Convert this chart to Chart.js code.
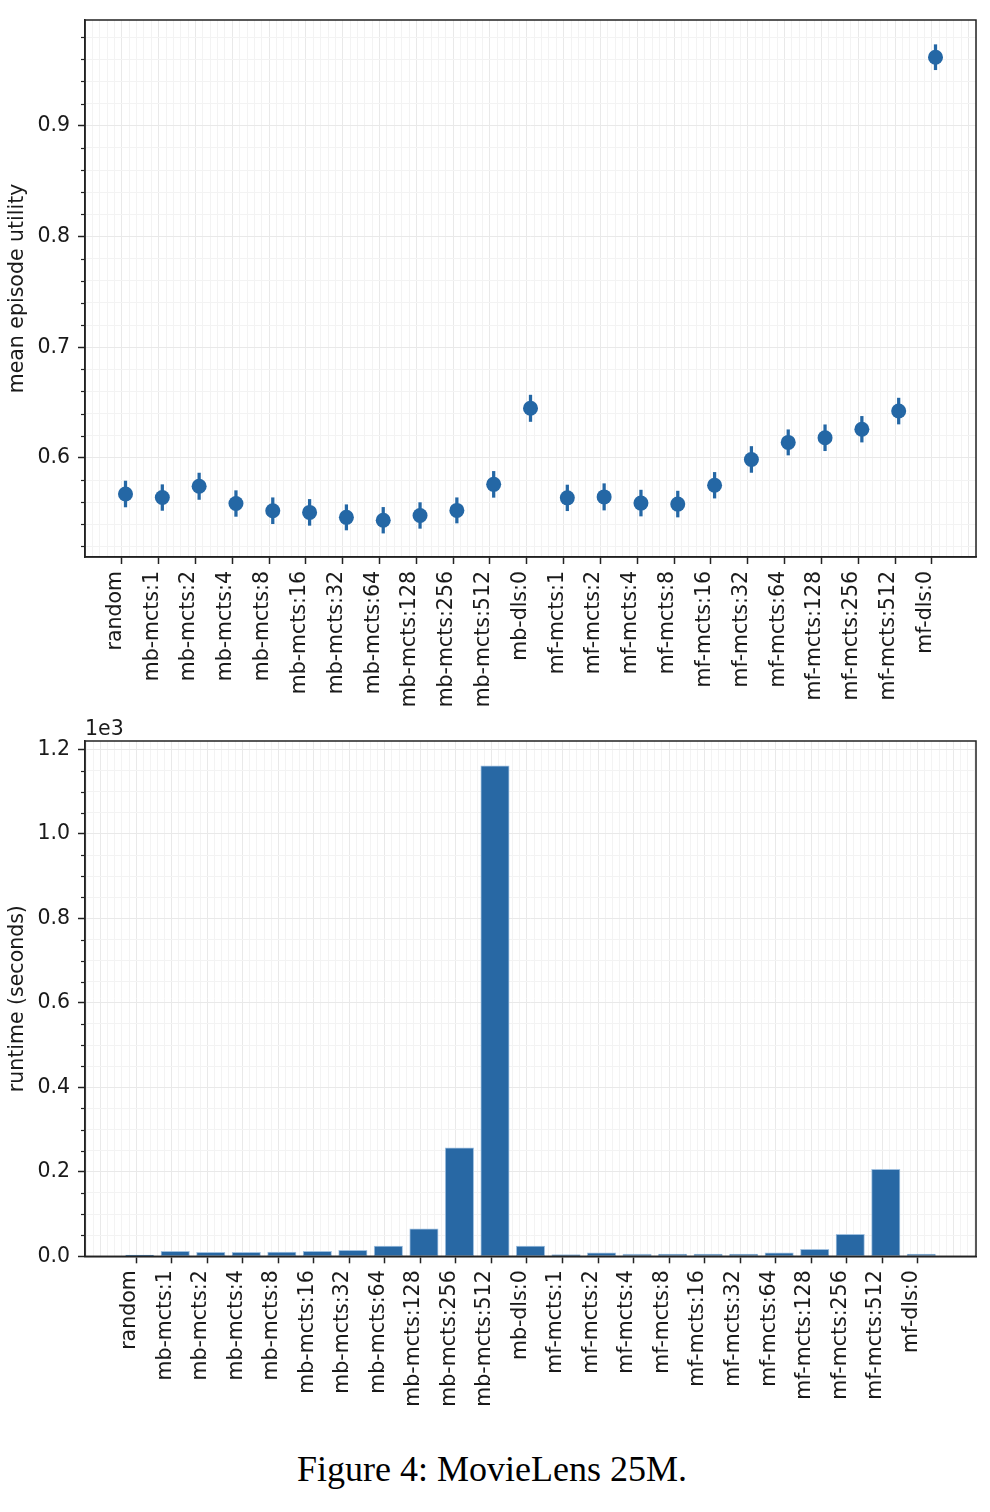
<!DOCTYPE html>
<html>
<head>
<meta charset="utf-8">
<script src="https://cdn.jsdelivr.net/npm/chart.js@4/dist/chart.umd.min.js"></script>
<style>
  html, body { margin: 0; padding: 0; background: #fff; }
  body { width: 990px; height: 1512px; position: relative; overflow: hidden; }
  canvas { position: absolute; left: 0; }
  #c1 { top: 0; }
  #c2 { top: 715px; }
  #cap { position: absolute; left: -3px; width: 990px; top: 1451px; text-align: center;
         font-family: "Liberation Serif", "Times New Roman", serif; font-size: 36px; line-height: 1;
         color: #000; white-space: nowrap; }
</style>
</head>
<body>
<canvas id="c1" width="990" height="715" style="width:990px;height:715px"></canvas>
<canvas id="c2" width="990" height="725" style="width:990px;height:725px"></canvas>
<div id="cap">Figure 4: MovieLens 25M.</div>
<script>
// ---------------- data ----------------
const categories = ['random','mb-mcts:1','mb-mcts:2','mb-mcts:4','mb-mcts:8','mb-mcts:16','mb-mcts:32',
  'mb-mcts:64','mb-mcts:128','mb-mcts:256','mb-mcts:512','mb-dls:0','mf-mcts:1','mf-mcts:2','mf-mcts:4',
  'mf-mcts:8','mf-mcts:16','mf-mcts:32','mf-mcts:64','mf-mcts:128','mf-mcts:256','mf-mcts:512','mf-dls:0'];
const utilityMean = [0.5674, 0.5642, 0.5744, 0.5588, 0.5523, 0.5508, 0.5463, 0.5437, 0.5480, 0.5526, 0.5761,
  0.6448, 0.5639, 0.5648, 0.5592, 0.5583, 0.5753, 0.5986, 0.6140, 0.6182, 0.6259, 0.6423, 0.9619];
const utilityErr = [0.0117, 0.0116, 0.0119, 0.0116, 0.0117, 0.0117, 0.0114, 0.0116, 0.0116, 0.0114, 0.0117,
  0.0119, 0.0116, 0.0119, 0.0117, 0.0117, 0.0116, 0.0117, 0.0114, 0.0117, 0.0116, 0.0117, 0.0113];
const runtimeSec = [3, 12, 9.5, 9.5, 10, 12, 14, 24, 65, 257, 1161, 24, 4, 8, 5, 5.5, 5.5, 5.5, 8, 16.5, 52, 206, 5.5];
const utilityMajorTicks = [0.6, 0.7, 0.8, 0.9];
const runtimeMajorTicks = [0, 200, 400, 600, 800, 1000, 1200];   // shown as x1e3
const runtimeTickLabels = ['0.0', '0.2', '0.4', '0.6', '0.8', '1.0', '1.2'];

// ---------------- style ----------------
const FONT = { family: 'DejaVu Sans', size: 20.5 };
const TXT = '#1a1a1a';
const AXIS = '#222222';
const GMAJ = '#e9e9e9';
const GMIN = '#f3f3f3';
const POINT = '#2467a5';
const BAR = '#2868a4';

const near = (a, b) => Math.abs(a - b) < 1e-6;
const isCat = v => near(v, Math.round(v)) && Math.round(v) >= 0 && Math.round(v) < categories.length;
const isInt = v => near(v, Math.round(v));

function rangeSteps(min, max, step) {
  const out = [];
  for (let k = Math.ceil(min / step - 1e-9); k * step <= max + 1e-9; k++) out.push(+(k * step).toFixed(6));
  return out;
}

function boxPlugin(id, isMajorY, extraText) {
  return {
    id,
    afterDraw(chart) {
      const { ctx, chartArea: a } = chart;
      const ys = chart.scales.y;
      ctx.save();
      ctx.strokeStyle = AXIS;
      ctx.lineWidth = 1.5;
      ctx.strokeRect(a.left, a.top, a.right - a.left, a.bottom - a.top);
      ctx.lineWidth = 1.2;
      ys.ticks.forEach(t => {
        if (!isMajorY(t.value)) {
          const y = Math.round(ys.getPixelForValue(t.value)) + 0.5;
          ctx.beginPath();
          ctx.moveTo(a.left - 4, y);
          ctx.lineTo(a.left, y);
          ctx.stroke();
        }
      });
      if (extraText) {
        ctx.fillStyle = TXT;
        ctx.font = `${FONT.size}px "${FONT.family}"`;
        ctx.textAlign = 'left';
        ctx.textBaseline = 'alphabetic';
        ctx.fillText(extraText, a.left, a.top - 6);
      }
      ctx.restore();
    }
  };
}

function xAxis(min, max, height) {
  return {
    type: 'linear', min, max, offset: false,
    afterBuildTicks: s => { s.ticks = rangeSteps(min, max, 0.2).map(v => ({ value: v })); },
    afterFit: s => { s.height = height; s.paddingLeft = 0; s.paddingRight = 0; },
    grid: {
      color: c => (c.tick && isInt(c.tick.value)) ? GMAJ : GMIN,
      tickColor: c => (c.tick && isCat(c.tick.value)) ? AXIS : 'rgba(0,0,0,0)',
      tickLength: 7, tickWidth: 1.5, lineWidth: 1
    },
    border: { display: true, color: AXIS, width: 1.5 },
    ticks: {
      autoSkip: false, maxRotation: 90, minRotation: 90, labelOffset: -10, padding: 7,
      font: FONT, color: TXT,
      callback: v => isCat(v) ? categories[Math.round(v)] : ''
    }
  };
}

function yAxis(min, max, tickValues, isMajor, label, titleText) {
  return {
    type: 'linear', min, max,
    afterBuildTicks: s => { s.ticks = tickValues.map(v => ({ value: v })); },
    afterFit: s => { s.width = 85; s.paddingTop = 0; s.paddingBottom = 0; },
    grid: {
      color: c => (c.tick && isMajor(c.tick.value)) ? GMAJ : GMIN,
      tickColor: c => (c.tick && isMajor(c.tick.value)) ? AXIS : 'rgba(0,0,0,0)',
      tickLength: 7, tickWidth: 1.5, lineWidth: 1
    },
    border: { display: true, color: AXIS, width: 1.5 },
    ticks: { autoSkip: false, padding: 8, font: FONT, color: TXT, callback: v => isMajor(v) ? label(v) : '' },
    title: { display: true, text: titleText, font: FONT, color: TXT, padding: { top: 5, bottom: 0 } }
  };
}

// ---------------- top chart ----------------
const topMin = 0.5105, topMax = 0.9955;
const topTicks = rangeSteps(0.52, 0.98, 0.02);
const topMajor = v => utilityMajorTicks.some(m => near(m, v));

new Chart(document.getElementById('c1'), {
  type: 'scatter',
  data: {
    datasets: [
      {
        type: 'scatter',
        data: utilityMean.map((m, i) => ({ x: i, y: m })),
        backgroundColor: POINT, borderWidth: 0, pointRadius: 7.5, pointHoverRadius: 7.5, showLine: false
      },
      {
        type: 'bar',
        data: utilityMean.map((m, i) => ({ x: i, y: [m - utilityErr[i], m + utilityErr[i]] })),
        backgroundColor: POINT, borderWidth: 0, barThickness: 2.6, borderSkipped: false
      }
    ]
  },
  options: {
    responsive: false, animation: false, devicePixelRatio: 1,
    layout: { padding: { top: 20, right: 14, left: 0, bottom: 0 } },
    plugins: { legend: { display: false }, tooltip: { enabled: false } },
    scales: {
      x: xAxis(-1.1, 23.1, 158),
      y: yAxis(topMin, topMax, topTicks, topMajor, v => v.toFixed(1), 'mean episode utility')
    }
  },
  plugins: [boxPlugin('box1', topMajor, null)]
});

// ---------------- bottom chart ----------------
const botTicks = rangeSteps(0, 1200, 50);
const botMajor = v => runtimeMajorTicks.some(m => near(m, v));
const botLabel = v => runtimeTickLabels[runtimeMajorTicks.findIndex(m => near(m, v))];

new Chart(document.getElementById('c2'), {
  type: 'bar',
  data: {
    datasets: [{
      data: runtimeSec.map((s, i) => ({ x: i, y: s })),
      backgroundColor: BAR, borderColor: 'rgba(150,185,220,0.9)', borderWidth: 1, borderSkipped: false,
      barThickness: 28.4
    }]
  },
  options: {
    responsive: false, animation: false, devicePixelRatio: 1,
    layout: { padding: { top: 26, right: 14, left: 0, bottom: 0 } },
    plugins: { legend: { display: false }, tooltip: { enabled: false } },
    scales: {
      x: xAxis(-1.54, 23.54, 183.7),
      y: yAxis(0, 1220, botTicks, botMajor, botLabel, 'runtime (seconds)')
    }
  },
  plugins: [boxPlugin('box2', botMajor, '1e3')]
});
</script>
</body>
</html>
